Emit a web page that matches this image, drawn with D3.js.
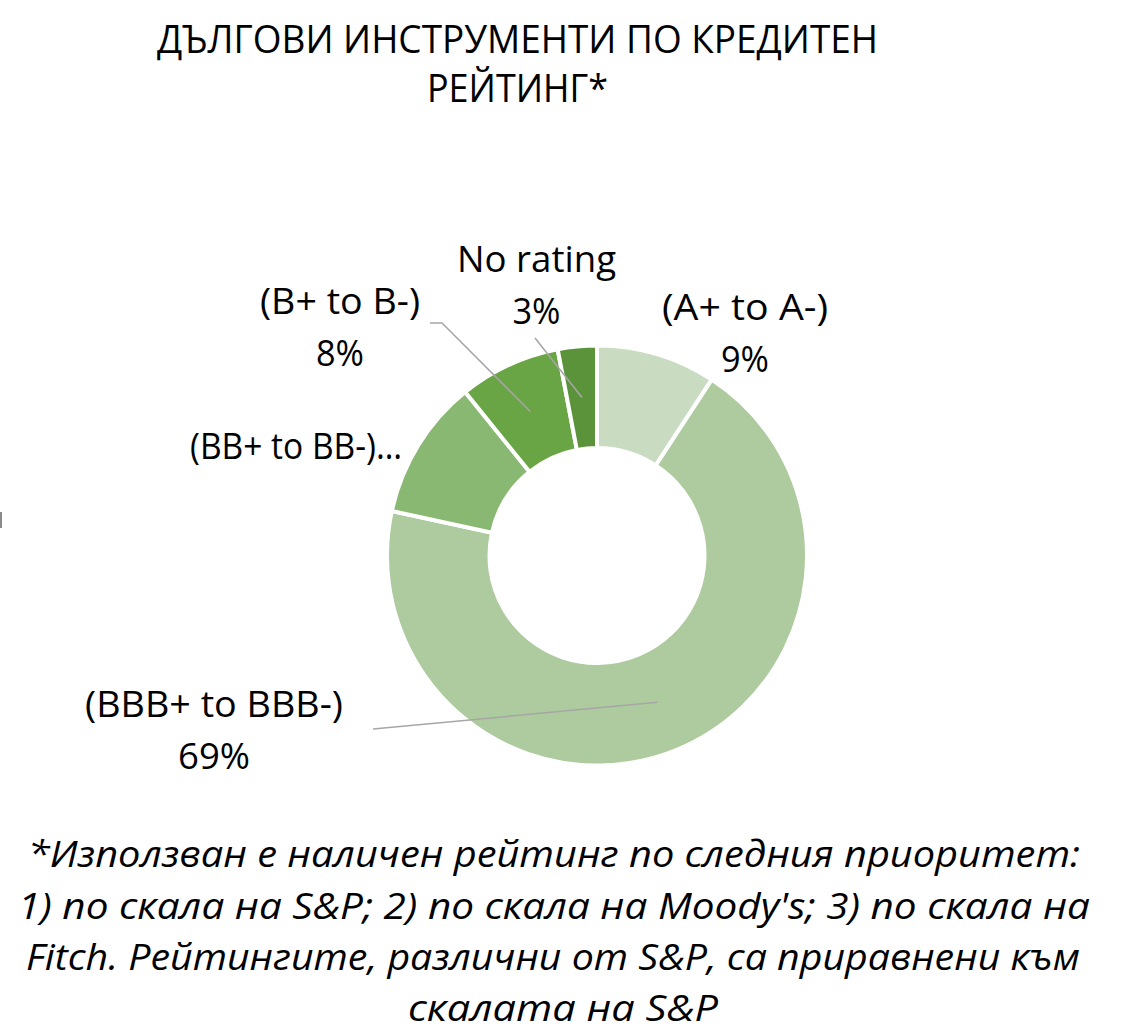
<!DOCTYPE html>
<html>
<head>
<meta charset="utf-8">
<script src="https://cdn.jsdelivr.net/npm/d3@7"></script>
<style>
  html, body { margin: 0; padding: 0; background: #fff; }
  svg { display: block; }
  text { font-family: "Open Sans", "Noto Sans", "DejaVu Sans", sans-serif; fill: #000; }
</style>
</head>
<body>
<svg id="chart" width="1125" height="1033"></svg>
<script>
// ---- Data ----
const categories = ["(A+ to A-)", "(BBB+ to BBB-)", "(BB+ to BB-)", "(B+ to B-)", "No rating"];
const values = [9.2, 69.2, 10.8, 7.8, 3.0];
const colors = ["#c9dcc1", "#adcb9e", "#88b872", "#6aa545", "#5b933a"];
const titleLines = ["ДЪЛГОВИ ИНСТРУМЕНТИ ПО КРЕДИТЕН", "РЕЙТИНГ*"];
const footnoteLines = [
  "*Използван е наличен рейтинг по следния приоритет:",
  "1) по скала на S&P; 2) по скала на Moody's; 3) по скала на",
  "Fitch. Рейтингите, различни от S&P, са приравнени към",
  "скалата на S&P"
];

// ---- Layout ----
const svg = d3.select("#chart");
const cx = 597, cy = 555.5, rOuter = 210, rInner = 107.5;

const labelLayout = [
  { x: 745, y: 320, w: 166, pct: true },
  { x: 214, y: 717, w: 258, pct: true },
  { x: 296, y: 459, w: 212, pct: false, suffix: "…" },
  { x: 340, y: 314, w: 160, pct: true },
  { x: 536.5, y: 272, w: 159, pct: true }
];
const leaderStarts = [
  null,
  [[373, 729]],
  null,
  [[430, 323], [442, 323]],
  [[535, 338]]
];

// Title
const titleW = [721, 181];
const titleY = [53, 102];
svg.selectAll("text.title").data(titleLines).join("text")
  .attr("class", "title")
  .attr("x", 517.5)
  .attr("y", (d, i) => titleY[i])
  .attr("text-anchor", "middle")
  .attr("font-size", 39)
  .attr("textLength", (d, i) => titleW[i])
  .attr("lengthAdjust", "spacingAndGlyphs")
  .text(d => d);

// Donut
const total = d3.sum(values);
const pie = d3.pie().sort(null).value(d => d.v);
const arcs = pie(categories.map((c, i) => ({ c, v: values[i], i })));
const arc = d3.arc().innerRadius(rInner).outerRadius(rOuter);

const g = svg.append("g").attr("transform", `translate(${cx},${cy})`);
g.selectAll("path").data(arcs).join("path")
  .attr("d", arc)
  .attr("fill", d => colors[d.data.i])
  .attr("stroke", "#fff")
  .attr("stroke-width", 4)
  .attr("stroke-linejoin", "miter");

// Leader lines
const line = d3.line();
arcs.forEach(d => {
  const st = leaderStarts[d.data.i];
  if (!st) return;
  const c = arc.centroid(d);
  const pts = st.concat([[cx + c[0], cy + c[1]]]);
  svg.append("path")
    .attr("d", line(pts))
    .attr("fill", "none")
    .attr("stroke", "#a6a6a6")
    .attr("stroke-width", 1.5);
});

// Data labels
const fmtPct = v => Math.round(v / total * 100) + "%";
arcs.forEach(d => {
  const L = labelLayout[d.data.i];
  svg.append("text")
    .attr("x", L.x).attr("y", L.y)
    .attr("text-anchor", "middle")
    .attr("font-size", 37)
    .attr("textLength", L.w)
    .attr("lengthAdjust", "spacingAndGlyphs")
    .text(d.data.c + (L.suffix || ""));
  if (L.pct) {
    const s = fmtPct(d.data.v);
    svg.append("text")
      .attr("x", L.x).attr("y", L.y + 52)
      .attr("text-anchor", "middle")
      .attr("font-size", 37)
      .attr("textLength", s.length === 2 ? 48 : 72)
      .attr("lengthAdjust", "spacingAndGlyphs")
      .text(s);
  }
});

// small clipped mark at left edge
svg.append("line").attr("x1", 1).attr("x2", 1).attr("y1", 512).attr("y2", 528)
  .attr("stroke", "#8a8a8a").attr("stroke-width", 2);

// Footnote
const footW = [1052, 1072, 1054, 310];
const footX = [554, 554, 553, 563];
const footY = [867, 919, 970, 1021];
svg.selectAll("text.foot").data(footnoteLines).join("text")
  .attr("class", "foot")
  .attr("x", (d, i) => footX[i])
  .attr("y", (d, i) => footY[i])
  .attr("text-anchor", "middle")
  .attr("font-size", 37)
  .attr("font-style", "italic")
  .attr("textLength", (d, i) => footW[i])
  .attr("lengthAdjust", "spacingAndGlyphs")
  .text(d => d);
</script>
</body>
</html>
